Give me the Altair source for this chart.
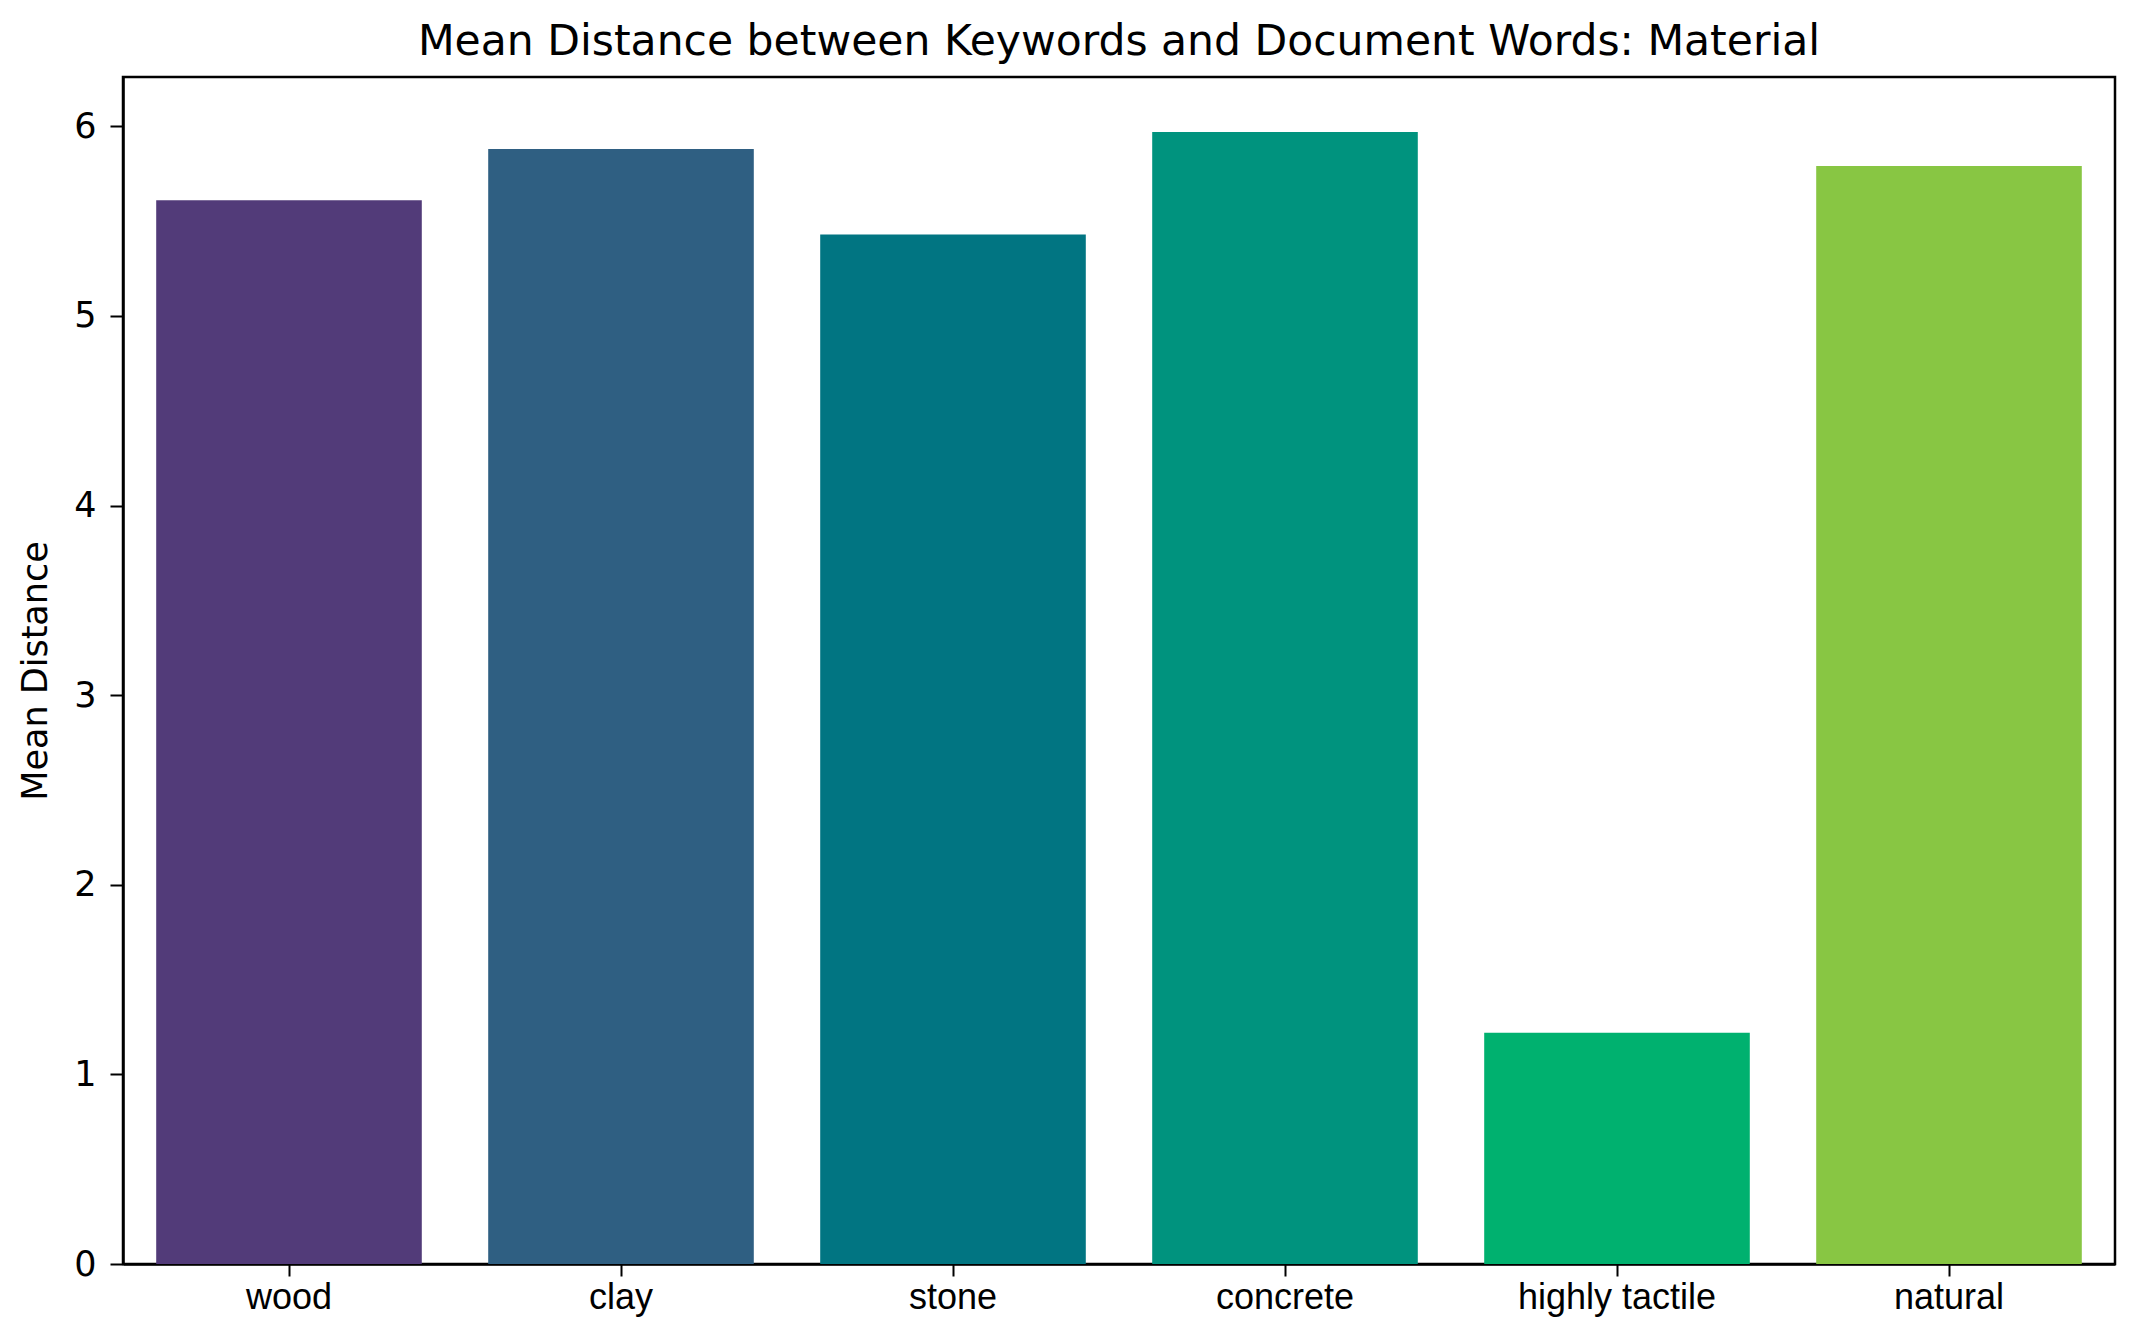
import altair as alt
import pandas as pd

categories = ["wood", "clay", "stone", "concrete", "highly tactile", "natural"]
values = [5.61, 5.88, 5.43, 5.97, 1.22, 5.79]
colors = ["#523b79", "#2f5f82", "#017582", "#00937e", "#00b16f", "#88c643"]

df = pd.DataFrame({"category": categories, "value": values, "color": colors})

chart = alt.Chart(df).mark_bar().encode(
    x=alt.X("category:N", sort=categories, title=None,
            scale=alt.Scale(paddingInner=0.2, paddingOuter=0.1),
            axis=alt.Axis(labelAngle=0, labelFont="Liberation Sans", labelFontSize=36,
                          labelColor="black", tickColor="black", tickSize=12, tickWidth=2,
                          domainColor="black", domainWidth=2.5, labelPadding=4,
                          labelLimit=0)),
    y=alt.Y("value:Q", title="Mean Distance",
            scale=alt.Scale(domain=[0, 6.26], nice=False, zero=True),
            axis=alt.Axis(values=[0, 1, 2, 3, 4, 5, 6], grid=False, labelFont="DejaVu Sans",
                          labelFontSize=35, labelColor="black", tickColor="black",
                          tickSize=13, tickWidth=2, domainColor="black", domainWidth=2.5,
                          labelPadding=14, titleFont="DejaVu Sans", titleFontSize=35,
                          titleFontWeight="normal", titleColor="black", titlePadding=20)),
    color=alt.Color("color:N", scale=None),
).properties(
    width=1992,
    height=1187,
    title=alt.TitleParams("Mean Distance between Keywords and Document Words: Material",
                          font="DejaVu Sans", fontSize=42.5, fontWeight="normal",
                          color="black", anchor="middle", offset=14),
    autosize=alt.AutoSizeParams(type="none"),
    padding={"left": 115, "top": 69, "right": 13, "bottom": 60},
).configure_view(
    stroke="black", strokeWidth=2.5
)

chart.save("out.html", embed_options={"renderer": "svg", "actions": False})
